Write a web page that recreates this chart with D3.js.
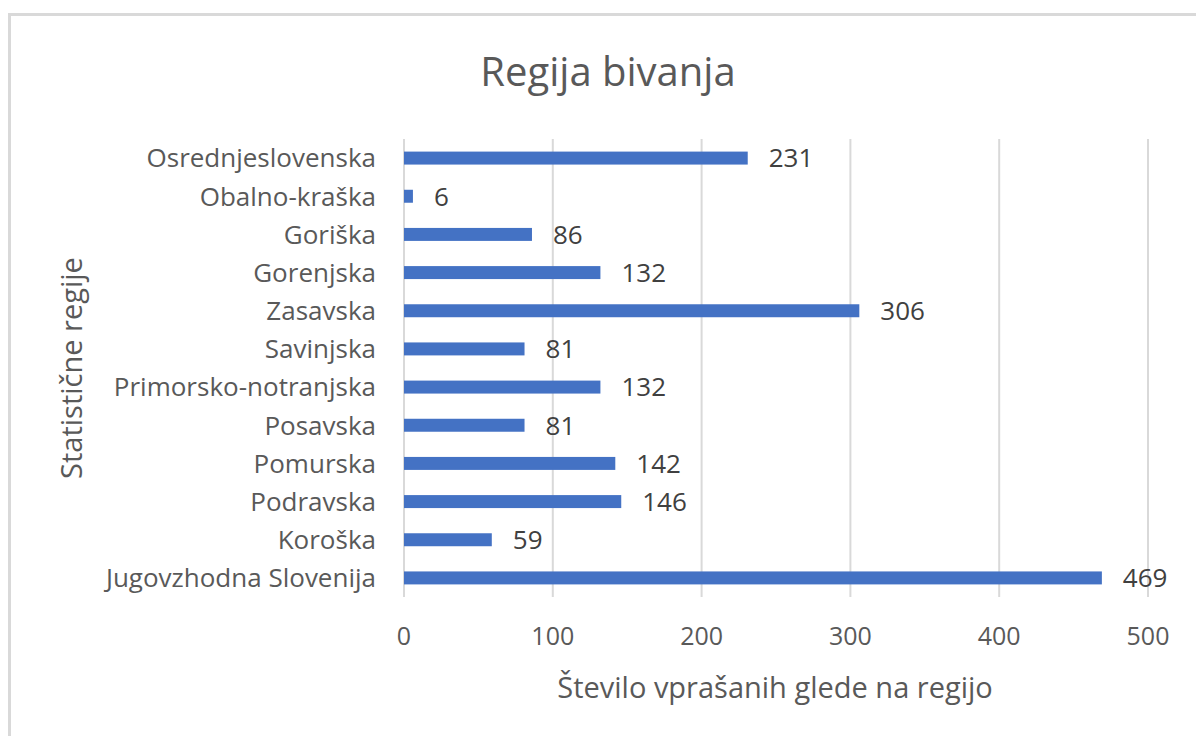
<!DOCTYPE html>
<html><head><meta charset="utf-8">
<script src="https://cdn.jsdelivr.net/npm/d3@7"></script>
<style>body{margin:0;background:#fff;} svg{display:block;} text{font-family:"Open Sans", sans-serif;}</style>
</head><body>
<svg id="c" width="1196" height="736"></svg>
<script>
const categories = ["Osrednjeslovenska","Obalno-kraška","Goriška","Gorenjska","Zasavska","Savinjska","Primorsko-notranjska","Posavska","Pomurska","Podravska","Koroška","Jugovzhodna Slovenija"];
const values = [231,6,86,132,306,81,132,81,142,146,59,469];
const xTicks = [0,100,200,300,400,500];
const title = "Regija bivanja";
const xTitle = "Število vprašanih glede na regijo";
const yTitle = "Statistične regije";

const svg = d3.select("#c");
svg.append("rect").attr("x",9.5).attr("y",14.5).attr("width",1200).attr("height",740)
  .attr("fill","#fff").attr("stroke","#d9d9d9").attr("stroke-width",3);

const pL=404, pR=1148, pT=139, pB=597;
const x = d3.scaleLinear().domain([0,500]).range([pL,pR]);
const y = d3.scaleBand().domain(categories).range([pT,pB]).paddingInner(0.66).paddingOuter(0.33);

svg.append("g").selectAll("line").data(xTicks).join("line")
  .attr("x1",d=>x(d)).attr("x2",d=>x(d)).attr("y1",pT).attr("y2",pB)
  .attr("stroke","#d9d9d9").attr("stroke-width",2);

svg.append("g").selectAll("rect").data(values).join("rect")
  .attr("x",x(0)).attr("y",(d,i)=>y(categories[i]))
  .attr("width",d=>x(d)-x(0)).attr("height",y.bandwidth()).attr("fill","#4472c4");

svg.append("g").selectAll("text").data(values).join("text")
  .attr("x",d=>x(d)+21).attr("y",(d,i)=>y(categories[i])+y.bandwidth()/2)
  .attr("dy","0.36em").attr("font-size",26).attr("fill","#404040").text(d=>d);

svg.append("g").selectAll("text").data(categories).join("text")
  .attr("x",376).attr("y",d=>y(d)+y.bandwidth()/2).attr("dy","0.36em")
  .attr("text-anchor","end").attr("font-size",26).attr("fill","#595959").text(d=>d);

svg.append("g").selectAll("text").data(xTicks).join("text")
  .attr("x",d=>x(d)).attr("y",636).attr("dy","0.36em").attr("text-anchor","middle")
  .attr("font-size",25).attr("fill","#595959").text(d=>d);

svg.append("text").attr("x",608).attr("y",72).attr("dy","0.36em").attr("text-anchor","middle")
  .attr("font-size",40).attr("fill","#595959").text(title);
svg.append("text").attr("x",775).attr("y",688).attr("dy","0.36em").attr("text-anchor","middle")
  .attr("font-size",29).attr("fill","#595959").text(xTitle);
svg.append("text").attr("transform","translate(72,368) rotate(-90)").attr("dy","0.36em").attr("text-anchor","middle")
  .attr("font-size",29).attr("fill","#595959").text(yTitle);
</script>
</body></html>
